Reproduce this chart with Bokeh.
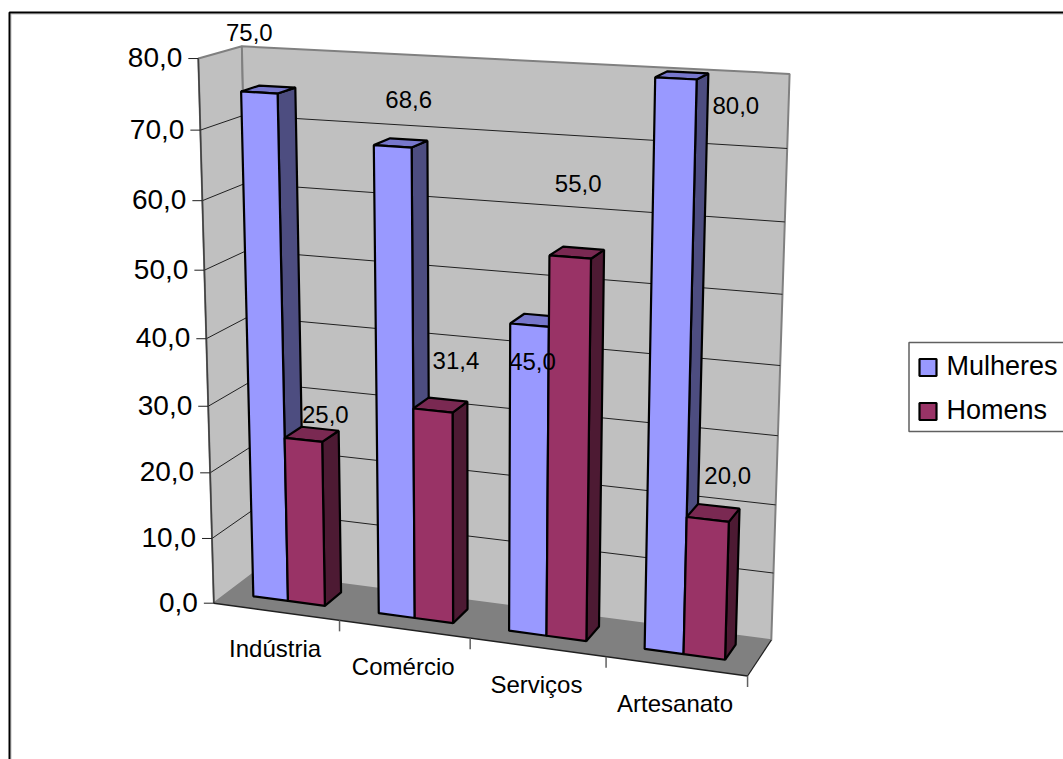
import numpy as np
from bokeh.core.properties import value
from bokeh.embed import file_html
from bokeh.models import ColumnDataSource, Range1d
from bokeh.plotting import figure
from bokeh.resources import INLINE

# Employment share by sector and sex
categories = ["Indústria", "Comércio", "Serviços", "Artesanato"]
mulheres = [75.0, 68.6, 45.0, 80.0]
homens = [25.0, 31.4, 55.0, 20.0]
value_ticks = [0, 10, 20, 30, 40, 50, 60, 70, 80]
series_names = ["Mulheres", "Homens"]

W, H = 1063, 759
FONT = value("Liberation Sans")

# Calibration of the plot box on the page: (category, value, depth) -> pixel.
BOX = [
    ((0, 0, 0), (215, 602)), ((4, 0, 0), (747, 676)),
    ((0, 0, 1), (251.7, 573)), ((4, 0, 1), (771.7, 638)),
    ((0, 80, 0), (197, 57.5)), ((0, 80, 1), (243, 46)), ((4, 80, 1), (789, 74)),
    ((0, 70, 0), (199, 129)), ((0, 60, 0), (201.5, 201.5)), ((0, 50, 0), (204, 269)),
    ((0, 10, 0), (213, 537.5)), ((4, 70, 1), (786.5, 147.5)), ((4, 60, 1), (784.5, 221.5)),
    ((4, 50, 1), (782, 294)), ((1, 0, 0), (339, 620)), ((2, 0, 0), (469, 638)),
    ((3, 0, 0), (605, 657)),
]


def fit_camera(pairs):
    """Least-squares perspective camera through the calibration points."""
    rows, rhs = [], []
    for (a, b, c), (x, y) in pairs:
        a, b = a / 4, b / 80
        rows.append([a, b, c, 1, 0, 0, 0, 0, -x * a, -x * b, -x * c])
        rhs.append(x)
        rows.append([0, 0, 0, 0, a, b, c, 1, -y * a, -y * b, -y * c])
        rhs.append(y)
    m = np.linalg.lstsq(np.array(rows, float), np.array(rhs, float), rcond=None)[0]
    return np.append(m, 1).reshape(3, 4)


CAM = fit_camera(BOX)


def project(cat, val, depth):
    h = CAM @ np.array([cat / 4, val / 80, depth, 1.0])
    return h[0] / h[2], h[1] / h[2]


def face(corners):
    pts = [project(*c) for c in corners]
    return [q[0] for q in pts], [q[1] for q in pts]


p = figure(width=W, height=H, output_backend="svg", toolbar_location=None,
           x_range=Range1d(0, W), y_range=Range1d(H, 0), min_border=0,
           background_fill_color="white", border_fill_color="white",
           outline_line_color=None, x_axis_type=None, y_axis_type=None)
p.grid.visible = False


def poly(corners, fill, line=None, width=1.0):
    xs, ys = face(corners)
    p.patch(xs, ys, fill_color=fill, line_color=line, line_width=width)


def seg(a, b, color="black", width=1.0):
    pa, pb = project(*a), project(*b)
    p.line([pa[0], pb[0]], [pa[1], pb[1]], line_color=color, line_width=width)


# Page frame around the whole chart, with its thin grey inner edge
p.line([10.5, 10.5, 1070], [770, 13.5, 13.5], line_color="#C0C0C0", line_width=1)
p.line([9, 9, 1070], [770, 12, 12], line_color="black", line_width=2)

# Walls and floor
TOP = value_ticks[-1]
poly([(0, 0, 0), (0, 0, 1), (0, TOP, 1), (0, TOP, 0)], "#C0C0C0", "#808080", 2)
poly([(0, 0, 1), (4, 0, 1), (4, TOP, 1), (0, TOP, 1)], "#C0C0C0", "#808080", 2)
poly([(0, 0, 0), (4, 0, 0), (4, 0, 1), (0, 0, 1)], "#808080")

# Gridlines and value axis
for v in value_ticks[1:-1]:
    seg((0, v, 0), (0, v, 1), "#202020")
    seg((0, v, 1), (4, v, 1), "#202020")
seg((0, 0, 0), (0, TOP, 0), "#404040", 1.5)
seg((0, 0, 0), (4, 0, 0), "#202020", 1.5)
seg((4, 0, 0), (4, 0, 1), "#202020", 1.2)
for v in value_ticks:
    x, y = project(0, v, 0)
    p.line([x - 10, x], [y, y], line_color="#202020", line_width=1)
    p.text([x - 16], [y - 1], text=[f"{v:.1f}".replace(".", ",")], text_font=FONT,
           text_font_size="28px", text_align="right", text_baseline="middle",
           text_color="black")

# Category ticks and labels
for i, name in enumerate(categories):
    x, y = project(i + 1, 0, 0)
    p.line([x, x], [y, y + 11], line_color="#606060", line_width=1.5)
    x, y = project(i + 0.5, 0, 0)
    p.text([x - 1], [y + 37], text=[name], text_font=FONT, text_font_size="24px",
           text_align="center", text_baseline="middle", text_color="black")

# Bars, painted from back to front
D0, D1 = 0.33, 0.76
SERIES = [
    (mulheres, 0.21, 0.49, "#9999FF", "#7777CC", "#4D4D80"),
    (homens, 0.49, 0.785, "#993366", "#7A2952", "#4D1A33"),
]
for i in range(len(categories)):
    for vals, u0, u1, front, top, side in SERIES:
        a, b, v = i + u0, i + u1, vals[i]
        poly([(b, 0, D0), (b, 0, D1), (b, v, D1), (b, v, D0)], side, "black", 2.2)
        poly([(a, v, D0), (b, v, D0), (b, v, D1), (a, v, D1)], top, "black", 2.2)
        poly([(a, 0, D0), (b, 0, D0), (b, v, D0), (a, v, D0)], front, "black", 2.2)

# Value labels, each offset from the top of its bar
OFFSETS = {
    (0, 0): (-10, -60), (1, 0): (16, -47), (2, 0): (3, 36), (3, 0): (60, 27),
    (0, 1): (22, -25), (1, 1): (23, -50), (2, 1): (8, -74), (3, 1): (20, -44),
}
for s, (vals, u0, u1, *_rest) in enumerate(SERIES):
    for i, v in enumerate(vals):
        x, y = project(i + (u0 + u1) / 2, v, D0)
        dx, dy = OFFSETS[(i, s)]
        p.text([x + dx], [y + dy], text=[f"{v:.1f}".replace(".", ",")], text_font=FONT,
               text_font_size="24px", text_align="center", text_baseline="middle",
               text_color="black")

# Legend box
p.patch([908.5, 1080, 1080, 908.5], [342, 342, 431, 431], fill_color="white",
        line_color="#606060", line_width=1.5)
swatches = ColumnDataSource(dict(x=[927.5, 927.5], y=[367, 411], c=["#9999FF", "#993366"]))
p.rect("x", "y", width=17, height=17, fill_color="c", line_color="black",
       line_width=2.2, source=swatches)
p.text([946, 946], [365, 409], text=series_names, text_font=FONT, text_font_size="27px",
       text_align="left", text_baseline="middle", text_color="black")

open("out.html", "w").write(file_html(p, INLINE))
